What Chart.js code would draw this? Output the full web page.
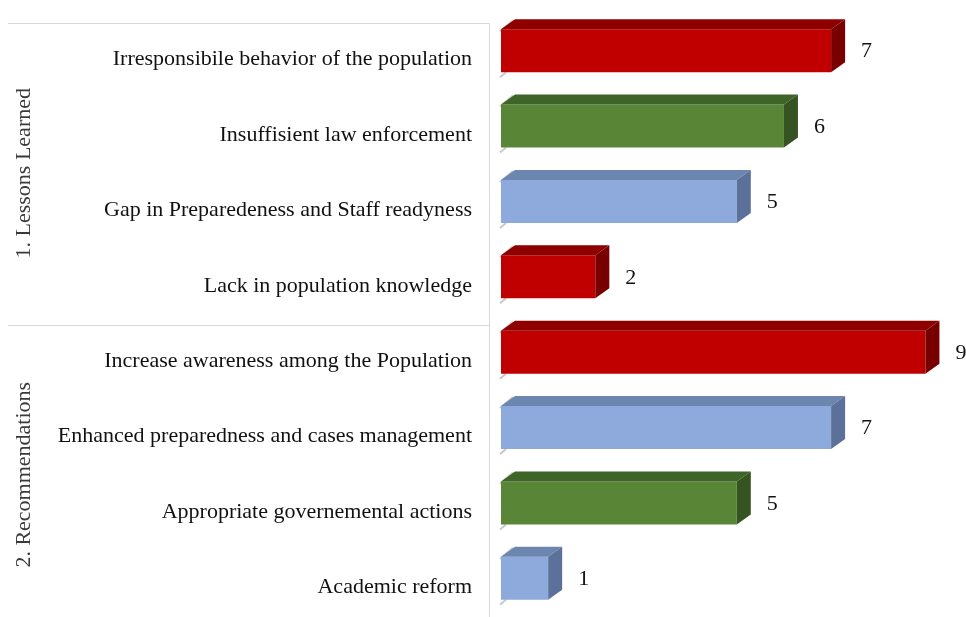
<!DOCTYPE html>
<html>
<head>
<meta charset="utf-8">
<script src="https://cdn.jsdelivr.net/npm/chart.js@4.4.1/dist/chart.umd.min.js"></script>
<style>
    html, body { margin: 0; padding: 0; background: #ffffff; }
    #wrap { width: 966px; height: 617px; position: relative; }
</style>
</head>
<body>
<div id="wrap"><canvas id="chart"></canvas></div>
<script>
// data
const categories = [
    'Irresponsibile behavior of the population',
    'Insuffisient law enforcement',
    'Gap in Preparedeness and Staff readyness',
    'Lack in population knowledge',
    'Increase awareness among the Population',
    'Enhanced preparedness and cases management',
    'Appropriate governemental actions',
    'Academic reform'
];
const values = [7, 6, 5, 2, 9, 7, 5, 1];
const groupNames = ['1. Lessons Learned', '2. Recommendations'];
const groupSizes = [4, 4];
const barColors = ['red', 'green', 'blue', 'red', 'red', 'blue', 'green', 'blue'];

const palette = {
    red:   { front: '#C00000', top: '#8E0000', side: '#780000' },
    green: { front: '#588636', top: '#3F6427', side: '#355421' },
    blue:  { front: '#8EA9DB', top: '#6D86B0', side: '#5B7199' }
};

const serif = '"Liberation Serif", "Times New Roman", serif';
const depthX = 14;
const depthY = 10;
const floorShift = 9;

// draws the 3d faces, value labels, group labels and separators
const bars3d = {
    id: 'bars3d',
    beforeDatasetsDraw(chart) {
        const ctx = chart.ctx;
        const yScale = chart.scales.y;
        const area = chart.chartArea;
        const slot = yScale.getPixelForValue(1) - yScale.getPixelForValue(0);
        const axisX = area.left - 12;

        ctx.save();
        ctx.strokeStyle = '#d9d9d9';
        ctx.lineWidth = 1;

        // axis line
        ctx.beginPath();
        ctx.moveTo(axisX + 0.5, yScale.getPixelForValue(0) - slot / 2 + floorShift + 1);
        ctx.lineTo(axisX + 0.5, chart.height);
        ctx.stroke();

        // group separators and labels
        let start = 0;
        groupSizes.forEach((n, g) => {
            const yTop = yScale.getPixelForValue(start) - slot / 2 + floorShift + 1;
            const yBot = yScale.getPixelForValue(start + n - 1) + slot / 2 + floorShift;
            ctx.beginPath();
            ctx.moveTo(8, Math.round(yTop) + 0.5);
            ctx.lineTo(axisX, Math.round(yTop) + 0.5);
            ctx.stroke();

            ctx.save();
            ctx.translate(24, (yTop + yBot) / 2);
            ctx.rotate(-Math.PI / 2);
            ctx.fillStyle = '#3a3a3a';
            ctx.font = '22px ' + serif;
            ctx.textAlign = 'center';
            ctx.textBaseline = 'middle';
            ctx.fillText(groupNames[g], 0, 0);
            ctx.restore();
            start += n;
        });

        // little wall marks at the bar roots
        const meta = chart.getDatasetMeta(0);
        ctx.strokeStyle = '#c8c8c8';
        ctx.lineWidth = 2;
        meta.data.forEach((bar) => {
            const top = bar.y - bar.height / 2;
            const bot = bar.y + bar.height / 2;
            ctx.beginPath();
            ctx.moveTo(bar.base - 1, top + 2);
            ctx.lineTo(bar.base + depthX - 2, top - depthY + 1);
            ctx.stroke();
            ctx.beginPath();
            ctx.moveTo(bar.base - 1, bot + 5);
            ctx.lineTo(bar.base + 5, bot);
            ctx.stroke();
        });
        ctx.restore();
    },
    afterDatasetsDraw(chart) {
        const ctx = chart.ctx;
        const meta = chart.getDatasetMeta(0);
        ctx.save();
        meta.data.forEach((bar, i) => {
            const c = palette[barColors[i]];
            const x0 = bar.base;
            const x1 = bar.x;
            const top = bar.y - bar.height / 2;
            const bot = bar.y + bar.height / 2;

            // top face
            ctx.fillStyle = c.top;
            ctx.beginPath();
            ctx.moveTo(x0, top);
            ctx.lineTo(x0 + depthX, top - depthY);
            ctx.lineTo(x1 + depthX, top - depthY);
            ctx.lineTo(x1, top);
            ctx.closePath();
            ctx.fill();

            // side face
            ctx.fillStyle = c.side;
            ctx.beginPath();
            ctx.moveTo(x1, top);
            ctx.lineTo(x1 + depthX, top - depthY);
            ctx.lineTo(x1 + depthX, bot - depthY);
            ctx.lineTo(x1, bot);
            ctx.closePath();
            ctx.fill();

            // value label
            ctx.fillStyle = '#111111';
            ctx.font = '22px ' + serif;
            ctx.textAlign = 'left';
            ctx.textBaseline = 'middle';
            ctx.fillText(String(values[i]), x1 + 30, bar.y + 1);
        });
        ctx.restore();
    }
};

const ctx = document.getElementById('chart');
const barChart = new Chart(ctx, {
    type: 'bar',
    data: {
        labels: categories,
        datasets: [{
            data: values,
            backgroundColor: barColors.map(k => palette[k].front),
            borderWidth: 0,
            categoryPercentage: 1,
            barPercentage: 0.57
        }]
    },
    options: {
        indexAxis: 'y',
        responsive: true,
        maintainAspectRatio: false,
        animation: false,
        layout: {
            padding: { top: 13, bottom: 1, right: 17, left: 0 }
        },
        scales: {
            x: {
                display: false,
                min: 0,
                max: 9.5
            },
            y: {
                grid: { display: false, drawTicks: true, tickLength: 29 },
                border: { display: false },
                afterFit(scale) {
                    scale.width = 501;
                    scale.paddingTop = 0;
                    scale.paddingBottom = 0;
                },
                ticks: {
                    padding: 0,
                    labelOffset: floorShift,
                    color: '#111111',
                    font: { family: serif, size: 22 }
                }
            }
        },
        plugins: {
            legend: { display: false },
            tooltip: { enabled: false }
        }
    },
    plugins: [bars3d]
});
</script>
</body>
</html>
